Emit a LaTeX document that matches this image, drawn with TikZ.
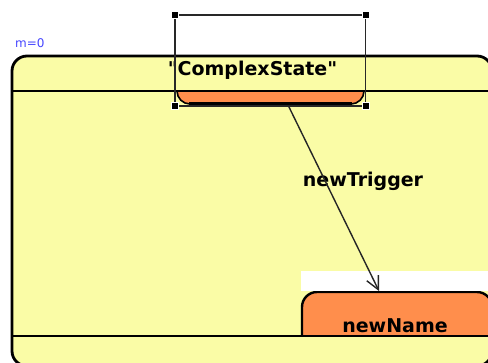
\documentclass[tikz,border=0pt]{standalone}
\usepackage{fontspec}
\setmainfont{DejaVu Sans}[Ligatures=TeXOff]
\usetikzlibrary{arrows.meta}
\definecolor{stateyellow}{RGB}{250,252,166}
\definecolor{stateorange}{RGB}{255,142,76}
\definecolor{mblue}{RGB}{70,70,255}
\definecolor{selgray}{RGB}{40,40,40}
\tikzset{
  stateborder/.style={draw=black, line width=2.8pt},
  label/.style={font=\bfseries\fontsize{19}{21}\selectfont, inner sep=0pt},
  handle/.style={fill=black, draw=white, line width=0.6pt, minimum size=7pt, inner sep=0pt},
  selbox/.style={draw=selgray, line width=1.4pt},
  trans/.style={draw=black!85, line width=1.4pt, -{Straight Barb[length=13pt,width=13pt,line width=1.4pt]}}
}
\begin{document}
\begin{tikzpicture}[x=1pt,y=-1pt]
\useasboundingbox (0,0) rectangle (488,363);
\fill[white] (0,0) rectangle (488,363);
\begin{scope}
\clip (0,0) rectangle (488,363);
% big complex state
\draw[stateborder, fill=stateyellow, rounded corners=15pt] (12,56) rectangle (492,366);
% orange region states, clipped to the region body
\begin{scope}
  \clip (12,91) rectangle (492,336);
  \draw[fill=stateorange, draw=black, line width=1.6pt, rounded corners=13pt] (177,60) rectangle (364,104);
  \draw[fill=stateorange, draw=black, line width=2.4pt, rounded corners=15pt] (302,292) rectangle (492,352);
\end{scope}
\draw[line width=3.2pt] (189,103.5) -- (352,103.5);
% region separators
\draw[stateborder] (12,91) -- (492,91);
\draw[stateborder] (12,336) -- (492,336);
% white label background
\fill[white] (301,271) rectangle (492,291);
\end{scope}
% texts
\node[font=\fontsize{12}{13}\selectfont, text=mblue, inner sep=0pt, anchor=base west] (m) at (15,48) {m=0};
\node[label, anchor=base] (cs) at (252.5,75.5) {"ComplexState"};
\node[label, anchor=base] (trig) at (363,187) {newTrigger};
\node[label, anchor=base] (nn) at (395,333) {newName};
% transition
\coordinate (src) at (288.5,106);
\coordinate (tgt) at (379,291);
\draw[trans] (src) -- (tgt);
% selection box
\coordinate (s1) at (175,15);
\coordinate (s2) at (365.5,15);
\coordinate (s3) at (365.5,106);
\coordinate (s4) at (175,106);
\draw[selbox] (s1) -- (s2) -- (s3) -- (s4) -- cycle;
\node[handle] (h1) at (s1) {};
\node[handle] (h2) at (s2) {};
\node[handle] (h3) at (s3) {};
\node[handle] (h4) at (s4) {};
\end{tikzpicture}
\end{document}
